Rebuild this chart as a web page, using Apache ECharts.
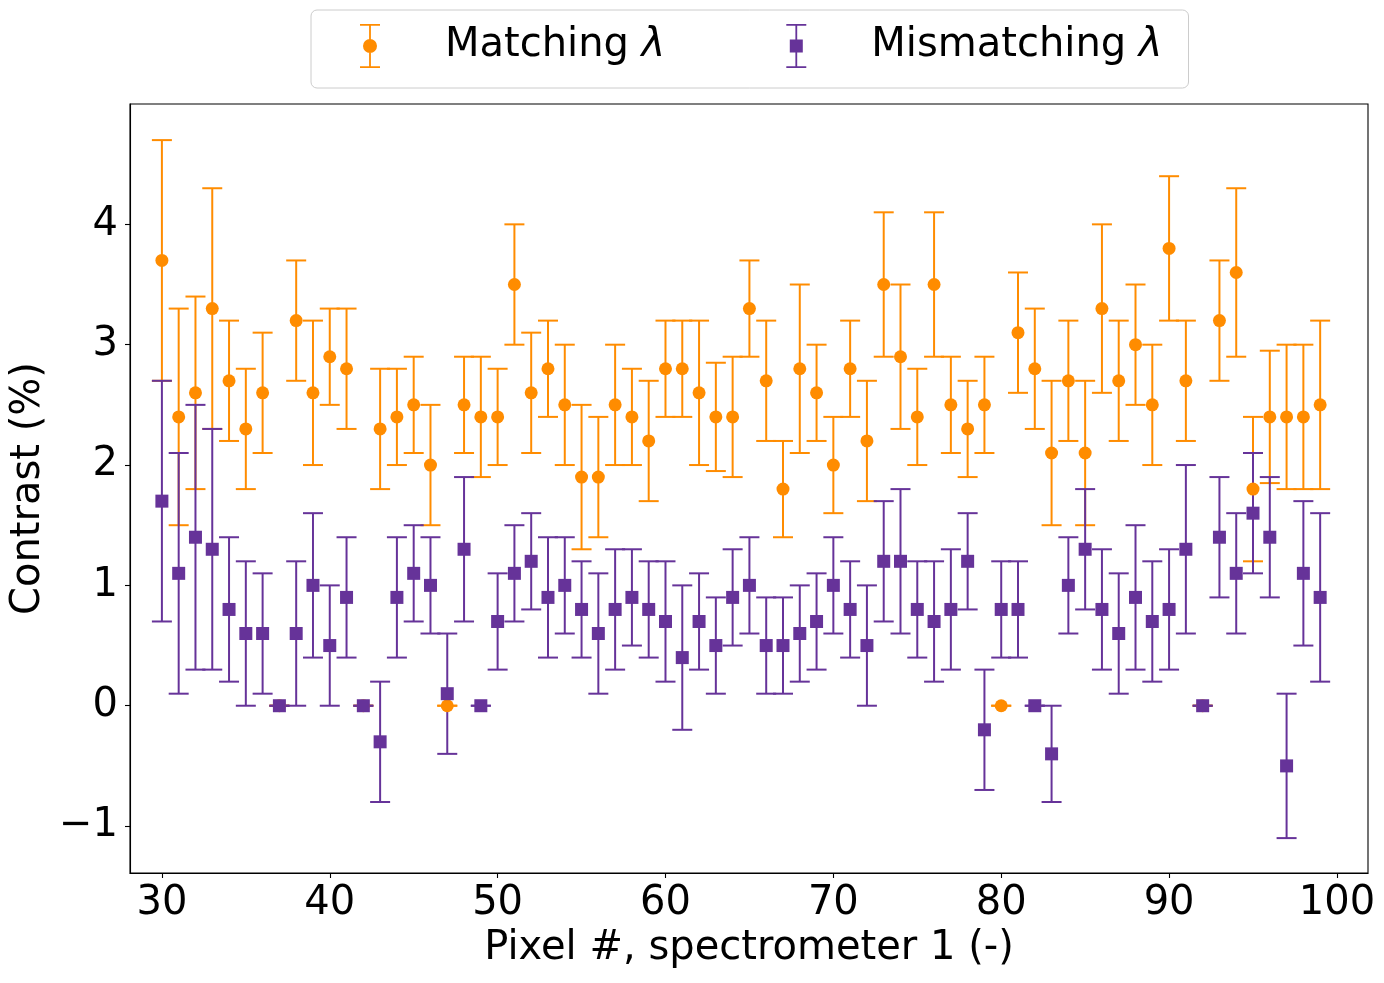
<!DOCTYPE html>
<html>
<head>
<meta charset="utf-8">
<script src="https://cdn.jsdelivr.net/npm/echarts@6/dist/echarts.min.js"></script>
<style>
html,body{margin:0;padding:0;background:#fff;}
#chart{width:1384px;height:983px;}
</style>
</head>
<body>
<div id="chart"></div>
<script>
const pixels = [30,31,32,33,34,35,36,37,38,39,40,41,42,43,44,45,46,47,48,49,50,51,52,53,54,55,56,57,58,59,60,61,62,63,64,65,66,67,68,69,70,71,72,73,74,75,76,77,78,79,80,81,82,83,84,85,86,87,88,89,90,91,92,93,94,95,96,97,98,99];
const matchVal = [3.7,2.4,2.6,3.3,2.7,2.3,2.6,0,3.2,2.6,2.9,2.8,0,2.3,2.4,2.5,2.0,0,2.5,2.4,2.4,3.5,2.6,2.8,2.5,1.9,1.9,2.5,2.4,2.2,2.8,2.8,2.6,2.4,2.4,3.3,2.7,1.8,2.8,2.6,2.0,2.8,2.2,3.5,2.9,2.4,3.5,2.5,2.3,2.5,0,3.1,2.8,2.1,2.7,2.1,3.3,2.7,3.0,2.5,3.8,2.7,0,3.2,3.6,1.8,2.4,2.4,2.4,2.5];
const matchErr = [1.0,0.9,0.8,1.0,0.5,0.5,0.5,0,0.5,0.6,0.4,0.5,0,0.5,0.4,0.4,0.5,0,0.4,0.5,0.4,0.5,0.5,0.4,0.5,0.6,0.5,0.5,0.4,0.5,0.4,0.4,0.6,0.45,0.5,0.4,0.5,0.4,0.7,0.4,0.4,0.4,0.5,0.6,0.6,0.4,0.6,0.4,0.4,0.4,0,0.5,0.5,0.6,0.5,0.6,0.7,0.5,0.5,0.5,0.6,0.5,0,0.5,0.7,0.6,0.55,0.6,0.6,0.7];
const mismatchVal = [1.7,1.1,1.4,1.3,0.8,0.6,0.6,0,0.6,1.0,0.5,0.9,0,-0.3,0.9,1.1,1.0,0.1,1.3,0,0.7,1.1,1.2,0.9,1.0,0.8,0.6,0.8,0.9,0.8,0.7,0.4,0.7,0.5,0.9,1.0,0.5,0.5,0.6,0.7,1.0,0.8,0.5,1.2,1.2,0.8,0.7,0.8,1.2,-0.2,0.8,0.8,0,-0.4,1.0,1.3,0.8,0.6,0.9,0.7,0.8,1.3,0,1.4,1.1,1.6,1.4,-0.5,1.1,0.9];
const mismatchErr = [1.0,1.0,1.1,1.0,0.6,0.6,0.5,0,0.6,0.6,0.5,0.5,0,0.5,0.5,0.4,0.4,0.5,0.6,0,0.4,0.4,0.4,0.5,0.4,0.4,0.5,0.5,0.4,0.4,0.5,0.6,0.4,0.4,0.4,0.4,0.4,0.4,0.4,0.4,0.4,0.4,0.5,0.5,0.6,0.4,0.5,0.5,0.4,0.5,0.4,0.4,0,0.4,0.4,0.5,0.5,0.5,0.6,0.5,0.5,0.7,0,0.5,0.5,0.5,0.5,0.6,0.6,0.7];
const xTicks = [30,40,50,60,70,80,90,100];
const yTicks = [-1,0,1,2,3,4];
const seriesNames = ['Matching λ','Mismatching λ'];

const ORANGE = '#ff8c00';
const PURPLE = '#663399';
const FONT = 'DejaVu Sans';

function points(vals){ return pixels.map((p,i)=>[p, vals[i]]); }
function bars(vals, errs){ return pixels.map((p,i)=>[p, vals[i]-errs[i], vals[i]+errs[i]]); }

function errRender(color){
  return function(params, api){
    const x = api.value(0), lo = api.value(1), hi = api.value(2);
    const a = api.coord([x, hi]);
    const b = api.coord([x, lo]);
    const cw = 10;
    const st = {stroke: color, lineWidth: 2};
    return {type:'group', children:[
      {type:'line', shape:{x1:a[0], y1:a[1], x2:b[0], y2:b[1]}, style:st},
      {type:'line', shape:{x1:a[0]-cw, y1:a[1], x2:a[0]+cw, y2:a[1]}, style:st},
      {type:'line', shape:{x1:b[0]-cw, y1:b[1], x2:b[0]+cw, y2:b[1]}, style:st}
    ]};
  };
}

const barPath = 'M0,0 L20,0 L20,1.8 L0,1.8 Z M0,42.2 L20,42.2 L20,44 L0,44 Z M9.1,0 L10.9,0 L10.9,44 L9.1,44 Z ';
const circleIcon = 'path://' + barPath + 'M17,22 A7,7 0 1 1 3,22 A7,7 0 1 1 17,22 Z';
const squareIcon = 'path://' + barPath + 'M3.5,15.5 L16.5,15.5 L16.5,28.5 L3.5,28.5 Z';

const chart = echarts.init(document.getElementById('chart'), null, {renderer:'canvas'});
chart.setOption({
  animation: false,
  backgroundColor: '#fff',
  textStyle: {fontFamily: FONT},
  legend: {
    left: 311, top: 10,
    orient: 'horizontal',
    itemWidth: 20, itemHeight: 44,
    itemGap: 121,
    padding: [14, 26, 20, 49],
    backgroundColor: 'rgba(255,255,255,0.8)',
    borderColor: '#cccccc', borderWidth: 1, borderRadius: 6,
    data: [{name: seriesNames[0], icon: circleIcon}, {name: seriesNames[1], icon: squareIcon}],
    formatter: function(n){ return n.replace('λ', '{i|λ}'); },
    textStyle: {fontFamily: FONT, fontSize: 40, color: '#000', padding: [0,0,0,60],
      rich: {i: {fontFamily: FONT, fontSize: 40, fontStyle: 'italic', color: '#000'}}}
  },
  grid: {left: 130, right: 16, top: 104, bottom: 110, show: true, borderColor: '#000', borderWidth: 1.1, containLabel: false},
  xAxis: {
    type: 'value', min: 28.1, max: 101.85,
    name: 'Pixel #, spectrometer 1 (-)', nameLocation: 'middle', nameGap: 56,
    nameTextStyle: {fontFamily: FONT, fontSize: 40, color: '#000'},
    axisLine: {show: true, onZero: false, lineStyle: {color: '#000', width: 1.1}},
    axisTick: {show: true, inside: false, length: 5, lineStyle: {color: '#000', width: 1.1}, customValues: xTicks},
    axisLabel: {fontFamily: FONT, fontSize: 40, color: '#000', margin: 11, customValues: xTicks},
    splitLine: {show: false}
  },
  yAxis: {
    type: 'value', min: -1.39, max: 5.0,
    name: 'Contrast (%)', nameLocation: 'middle', nameGap: 80, nameRotate: 90,
    nameTextStyle: {fontFamily: FONT, fontSize: 40, color: '#000'},
    axisLine: {show: true, onZero: false, lineStyle: {color: '#000', width: 1.1}},
    axisTick: {show: true, inside: false, length: 5, lineStyle: {color: '#000', width: 1.1}, customValues: yTicks},
    axisLabel: {fontFamily: FONT, fontSize: 40, color: '#000', margin: 12, customValues: yTicks,
      formatter: function(v){ return String(v).replace('-', '\u2212'); }},
    splitLine: {show: false}
  },
  series: [
    {type:'custom', name: seriesNames[0], renderItem: errRender(ORANGE), data: bars(matchVal, matchErr), z: 2, itemStyle:{color: ORANGE}, encode:{x:0, y:[1,2]}},
    {type:'custom', name: seriesNames[1], renderItem: errRender(PURPLE), data: bars(mismatchVal, mismatchErr), z: 2, itemStyle:{color: PURPLE}, encode:{x:0, y:[1,2]}},
    {type:'scatter', name: seriesNames[0], data: points(matchVal), symbol:'circle', symbolSize: 13, itemStyle:{color: ORANGE, opacity:1}, z: 3},
    {type:'scatter', name: seriesNames[1], data: points(mismatchVal), symbol:'rect', symbolSize: 13, itemStyle:{color: PURPLE, opacity:1}, z: 4}
  ]
});
</script>
</body>
</html>
